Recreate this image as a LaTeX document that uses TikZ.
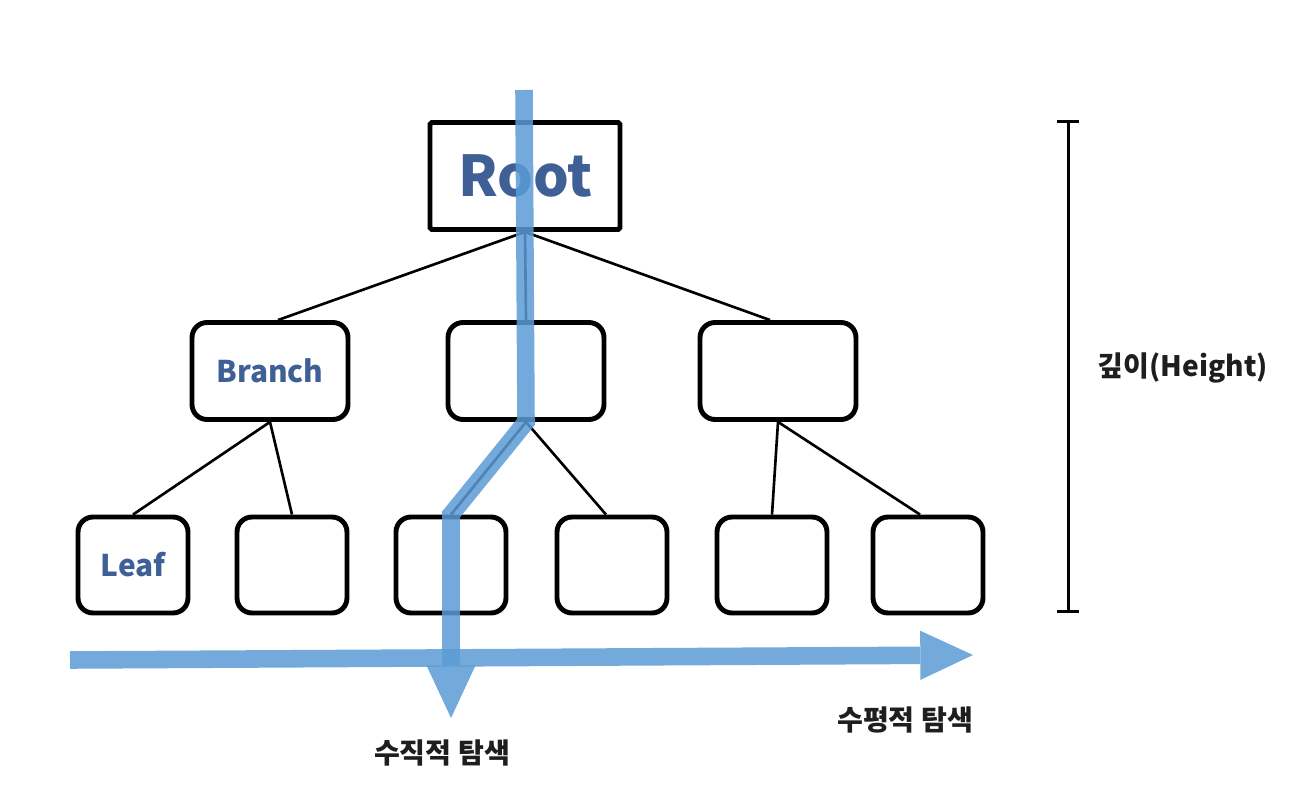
\documentclass[tikz,border=0pt]{standalone}
\usepackage{fontspec}
\setmainfont{Noto Sans CJK KR}
\usepackage{tikz}
\usetikzlibrary{arrows.meta,shadows}
\definecolor{scol}{RGB}{91,155,213}
\definecolor{tcol}{RGB}{62,96,150}
\definecolor{lcol}{RGB}{30,30,30}

\tikzset{
  box/.style={draw=black, line width=2.8pt, fill=white, inner sep=0pt,
    drop shadow={opacity=.25, shadow xshift=1pt, shadow yshift=-1pt},
    text=tcol, font=\bfseries},
  rootbox/.style={box, rounded corners=1pt, minimum width=3.8cm, minimum height=2.14cm,
    font=\bfseries\fontsize{32}{36}\selectfont},
  midbox/.style={box, rounded corners=0.3cm, minimum width=3.12cm, minimum height=1.94cm,
    font=\bfseries\fontsize{17}{20}\selectfont},
  leafbox/.style={box, rounded corners=0.3cm, minimum width=2.2cm, minimum height=1.92cm,
    font=\bfseries\fontsize{17}{20}\selectfont},
  edge/.style={draw=black, line width=1.5pt},
  sweep/.style={draw=scol, fill=scol, line width=10pt,
    -{Triangle[length=30pt, width=28pt, line width=0pt]}},
  caption/.style={text=lcol, font=\bfseries\fontsize{16}{19}\selectfont}
}

\begin{document}
\begin{tikzpicture}[x=0.02cm, y=-0.02cm, >=Stealth]
\useasboundingbox (0,0) rectangle (1304,804);
% tree
\node[rootbox] (root) at (525,176) {Root};
\node[midbox] (br1) at (270,371) {Branch};
\node[midbox] (br2) at (526,371) {};
\node[midbox] (br3) at (778,371) {};
\node[leafbox] (lf1) at (133,565) {Leaf};
\node[leafbox] (lf2) at (292,565) {};
\node[leafbox] (lf3) at (451,565) {};
\node[leafbox] (lf4) at (612,565) {};
\node[leafbox] (lf5) at (772,565) {};
\node[leafbox] (lf6) at (928,565) {};
\draw[edge] (root.south) -- ([xshift=8*0.02cm]br1.north);
\draw[edge] (root.south) -- (br2.north);
\draw[edge] (root.south) -- ([xshift=-8*0.02cm]br3.north);
\draw[edge] (br1.south) -- (lf1.north);
\draw[edge] (br1.south) -- (lf2.north);
\draw[edge] (br2.south) -- (lf3.north);
\draw[edge] (br2.south) -- ([xshift=-6*0.02cm]lf4.north);
\draw[edge] (br3.south) -- (lf5.north);
\draw[edge] (br3.south) -- ([xshift=-8*0.02cm]lf6.north);
% traversal arrows
\coordinate (htail) at (70,660);
\coordinate (hhead) at (973,655);
\begin{scope}[transparency group, opacity=.85]
\draw[sweep] (htail) -- (hhead);
\end{scope}
\coordinate (vtop) at (524,90);
\coordinate (vend) at (451,718);
\begin{scope}[transparency group, opacity=.85]
\draw[sweep, fill=none] (vtop) -- (br2.south) -- (lf3.north) -- (vend);
\end{scope}
\node[caption] (hlab) at (905,720) {수평적 탐색};
\node[caption] (vlab) at (442,753) {수직적 탐색};
% height
\coordinate (ht) at (1068,120);
\coordinate (hb) at (1068,613);
\draw[line width=1.7pt, {Bar[width=12.5pt]}-{Bar[width=12.5pt]}] (ht) -- (hb);
\node[caption] (hgt) at (1183,368) {깊이(Height)};
\end{tikzpicture}
\end{document}
